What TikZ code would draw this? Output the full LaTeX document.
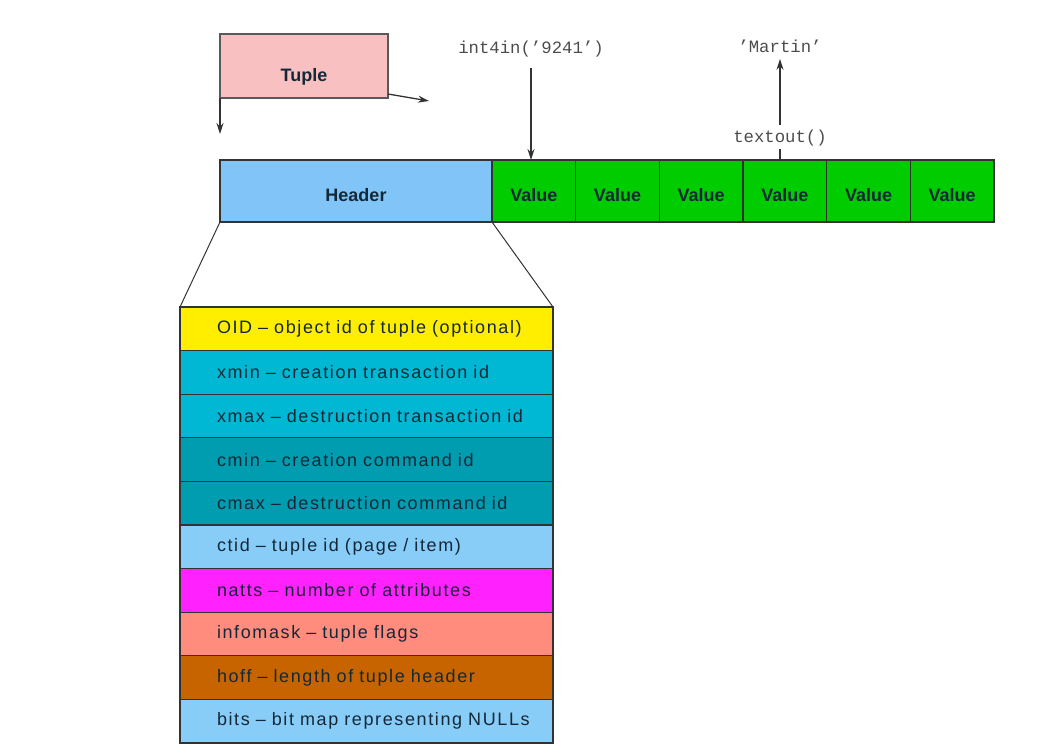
\documentclass[tikz,border=0pt]{standalone}
\usepackage{fontspec}
\setmainfont{Liberation Sans}
\setmonofont{Liberation Mono}
\newfontfamily\fieldfont[LetterSpace=9]{Liberation Sans}
\usetikzlibrary{arrows,arrows.meta,positioning}
\definecolor{tuplepink}{HTML}{F8C0C0}
\definecolor{headblue}{HTML}{80C4F8}
\definecolor{valgreen}{HTML}{00CC00}
\definecolor{oidyellow}{HTML}{FFEE00}
\definecolor{xteal}{HTML}{00B8D4}
\definecolor{cteal}{HTML}{009CB0}
\definecolor{ctidblue}{HTML}{88CCF8}
\definecolor{nattsmag}{HTML}{FF22FF}
\definecolor{maskpink}{HTML}{FF8C7C}
\definecolor{hoffbrown}{HTML}{C86400}
\definecolor{textdark}{HTML}{142838}

\begin{document}
\begin{tikzpicture}[x=1pt,y=-1pt,>={Stealth[length=11pt,width=7pt]},line width=1.1pt,node distance=0pt,
  box node/.style={rectangle,draw=black!80,outer sep=0pt,inner sep=0pt,text=textdark,
    text height=24pt,text depth=4pt,font=\bfseries\fontsize{18}{21}\selectfont},
  tuple node/.style={box node,draw=black!65,fill=tuplepink,text height=34pt,minimum width=168pt,minimum height=64pt},
  head node/.style={box node,fill=headblue,minimum width=272pt,minimum height=62pt},
  value node/.style={box node,fill=valgreen,minimum width=83.67pt,minimum height=62pt},
  field node/.style={rectangle,draw=black!80,outer sep=0pt,inner sep=0pt,minimum height=43.6pt,
    text width=373pt,align=left,text=textdark,font=\fieldfont\fontsize{18}{21}\selectfont,
    execute at begin node=\hspace*{37pt}},
  code node/.style={font=\ttfamily\fontsize{17.3}{20}\selectfont,text=black!70,inner sep=2pt},
  link/.style={black!80,line width=1.3pt}]
  \useasboundingbox (0,0) rectangle (1053,755);

  \node[tuple node] (tuple) at (304,66) {Tuple};
  \coordinate (tdown) at (220,134);
  \coordinate (tright) at (429,101);

  \node[head node,anchor=north west] (header) at (220,160) {Header};
  \node[value node] (v1) [right=of header] {Value};
  \node[value node] (v2) [right=of v1] {Value};
  \node[value node] (v3) [right=of v2] {Value};
  \node[value node] (v4) [right=of v3] {Value};
  \node[value node] (v5) [right=of v4] {Value};
  \node[value node] (v6) [right=of v5] {Value};

  \node[code node] (int4in) at (531,49) {int4in(’9241’)};
  \node[code node] (martin) at (780,46) {’Martin’};
  \node[code node] (textout) at (780,138) {textout()};

  \node[field node,fill=oidyellow,anchor=north west] (oid) at (180,307) {OID – object id of tuple (optional)};
  \node[field node,fill=xteal] (xmin) [below=of oid] {xmin – creation transaction id};
  \node[field node,fill=xteal] (xmax) [below=of xmin] {xmax – destruction transaction id};
  \node[field node,fill=cteal] (cmin) [below=of xmax] {cmin – creation command id};
  \node[field node,fill=cteal] (cmax) [below=of cmin] {cmax – destruction command id};
  \node[field node,fill=ctidblue] (ctid) [below=of cmax] {ctid – tuple id (page / item)};
  \node[field node,fill=nattsmag] (natts) [below=of ctid] {natts – number of attributes};
  \node[field node,fill=maskpink] (mask) [below=of natts] {infomask – tuple flags};
  \node[field node,fill=hoffbrown] (hoff) [below=of mask] {hoff – length of tuple header};
  \node[field node,fill=ctidblue] (bits) [below=of hoff] {bits – bit map representing NULLs};

  \path[->,link]
    (tuple.south west) edge (tdown)
    ([yshift=4pt]tuple.south east) edge (tright)
    (int4in.south) edge[shorten <=8pt] (int4in.south |- v1.north)
    (textout.north) edge[shorten <=2pt,shorten >=4pt] (martin.south);
  \draw[link] (textout.south) -- (textout.south |- v4.north);
  \draw[line width=1pt,black!80]
    (header.south west) -- (oid.north west)
    (header.south east) -- (oid.north east);
\end{tikzpicture}
\end{document}
